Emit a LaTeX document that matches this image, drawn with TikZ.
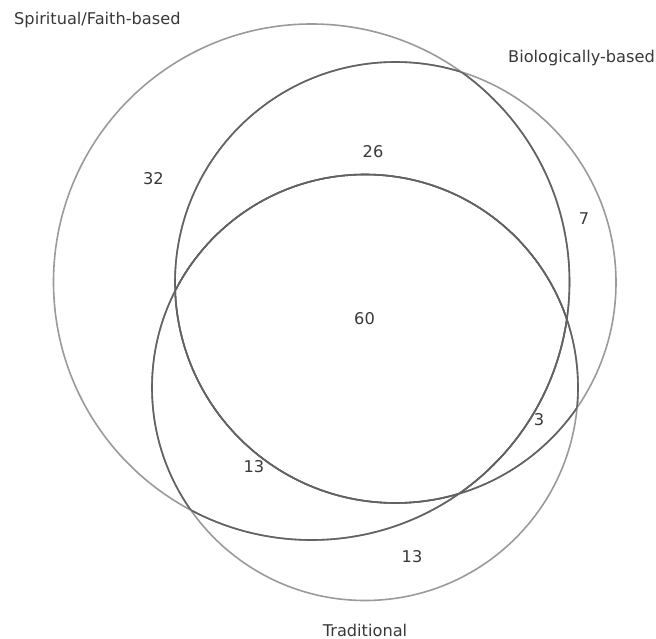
\documentclass[tikz,border=0pt]{standalone}
\usepackage{fontspec}
\setmainfont{DejaVu Sans}
\definecolor{lightedge}{HTML}{9A9A9A}
\definecolor{darkedge}{HTML}{626262}
\definecolor{txt}{HTML}{383838}
\tikzset{
  lightline/.style={draw=lightedge, line width=1.6pt},
  darkline/.style={draw=darkedge, line width=1.6pt},
  lbl/.style={inner sep=0pt, text=txt, font=\fontsize{16.2pt}{19pt}\selectfont},
}
\begin{document}
\begin{tikzpicture}[x=1pt,y=-1pt]
\useasboundingbox (0,0) rectangle (656,639);
\coordinate (cs) at (311.5,282);
\coordinate (cb) at (395.5,282.5);
\coordinate (ct) at (365,387.5);
\def\rs{258}\def\rb{220.5}\def\rt{213}
% outer (light) strokes
\draw[lightline] (cs) circle[radius=\rs];
\draw[lightline] (cb) circle[radius=\rb];
\draw[lightline] (ct) circle[radius=\rt];
% interior (dark) strokes
\begin{scope}\clip (cb) circle[radius=\rb]; \draw[darkline] (cs) circle[radius=\rs]; \draw[darkline] (ct) circle[radius=\rt];\end{scope}
\begin{scope}\clip (cs) circle[radius=\rs]; \draw[darkline] (cb) circle[radius=\rb]; \draw[darkline] (ct) circle[radius=\rt];\end{scope}
\begin{scope}\clip (ct) circle[radius=\rt]; \draw[darkline] (cs) circle[radius=\rs]; \draw[darkline] (cb) circle[radius=\rb];\end{scope}
% set labels
\node[lbl, anchor=base west] (ls) at (14,25) {Spiritual/Faith-based};
\node[lbl, anchor=base east] (lb) at (655,63) {Biologically-based};
\node[lbl, anchor=base] (lt) at (365,636) {Traditional};
% counts
\node[lbl] (n32) at (153.5,179) {32};
\node[lbl] (n26) at (373,152) {26};
\node[lbl] (n7) at (584,219) {7};
\node[lbl] (n60) at (364.5,318.5) {60};
\node[lbl] (n3) at (539,420) {3};
\node[lbl] (n13a) at (254,467) {13};
\node[lbl] (n13b) at (412,557) {13};
\end{tikzpicture}
\end{document}
